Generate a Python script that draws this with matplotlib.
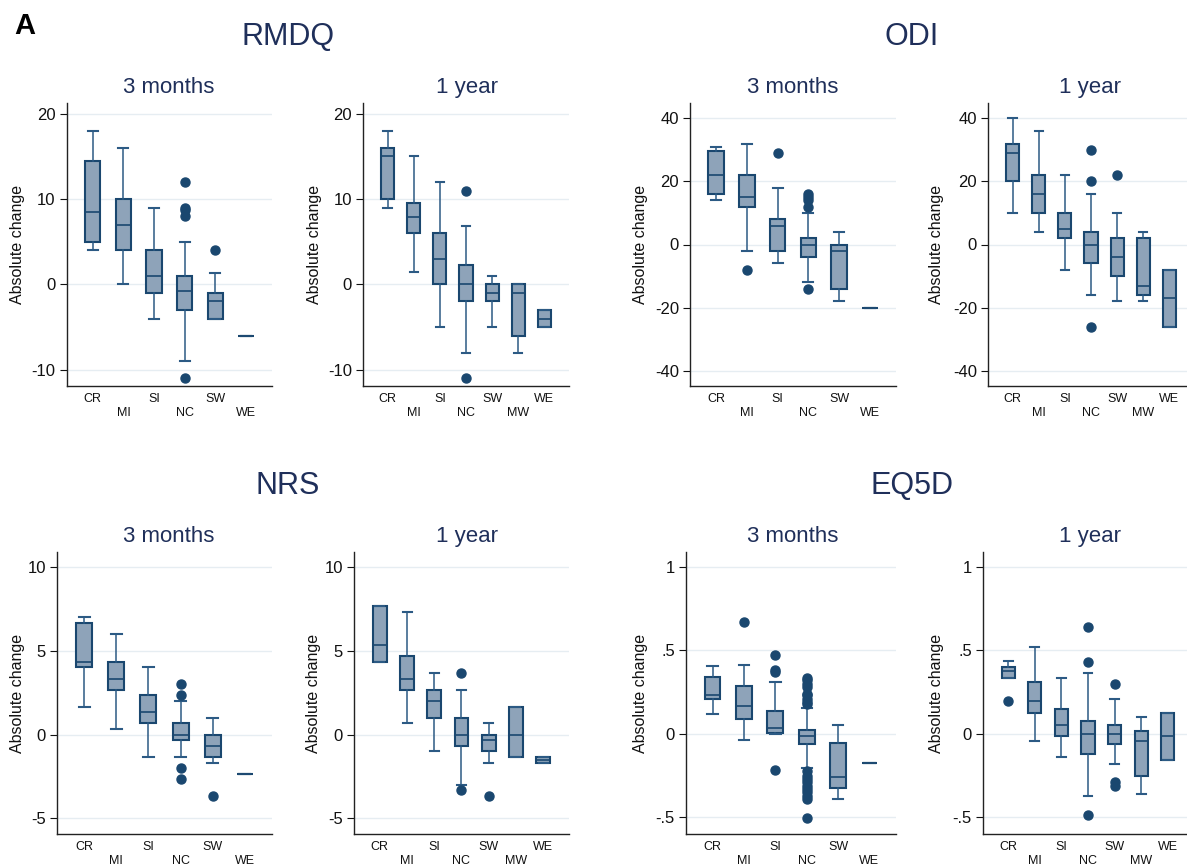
#!/usr/bin/env python3

import matplotlib
matplotlib.use('Agg')
import matplotlib.pyplot as plt

plt.rcParams['font.family'] = ['Liberation Sans', 'DejaVu Sans']

# categories
cats6 = ['CR', 'MI', 'SI', 'NC', 'SW', 'WE']
cats7 = ['CR', 'MI', 'SI', 'NC', 'SW', 'MW', 'WE']

# box stats per category: (whisker low, q1, median, q3, whisker high)
rmdq_3m = [(4, 5, 8.5, 14.4, 18), (0, 4, 7, 10, 16), (-4, -1, 1, 4, 9),
           (-9, -3, -0.8, 1, 5), (-4, -4, -2, -1, 1.35), (-6, -6, -6, -6, -6)]
rmdq_3m_out = [[], [], [], [12, 9, 8.67, 8, -11], [4], []]

rmdq_1y = [(9, 10, 15, 16, 18), (1.4, 6, 7.85, 9.5, 15), (-5, 0, 3, 6, 12),
           (-8, -2, 0, 2.3, 6.8), (-5, -2, -1, 0, 1), (-8, -6, -1, 0, 0),
           (-5, -5, -4, -3, -3)]
rmdq_1y_out = [[], [], [], [11, -11], [], [], []]

odi_3m = [(14, 16, 22, 29.7, 31), (-2, 12, 15, 22, 32), (-6, -2, 6, 8, 18),
          (-12, -4, 0, 2, 10), (-18, -14, -2, 0, 4), (-20, -20, -20, -20, -20)]
odi_3m_out = [[], [-8], [29], [16, 15, 14, 12, -14], [], []]

odi_1y = [(10, 20, 29, 32, 40), (4, 10, 16, 22, 36), (-8, 2, 5, 10, 22),
          (-16, -6, 0, 4, 16), (-18, -10, -4, 2, 10), (-18, -16, -13, 2, 4),
          (-26, -26, -17, -8, -8)]
odi_1y_out = [[], [], [], [30, 20, -26], [22], [], []]

nrs_3m = [(1.67, 4, 4.33, 6.67, 7), (0.33, 2.67, 3.33, 4.33, 6),
          (-1.33, 0.67, 1.33, 2.33, 4), (-1.33, -0.33, 0, 0.67, 2),
          (-1.67, -1.33, -0.67, 0, 1), (-2.33, -2.33, -2.33, -2.33, -2.33)]
nrs_3m_out = [[], [], [], [3, 2.33, -2, -2.67], [-3.67], []]

nrs_1y = [(4.33, 4.33, 5.33, 7.67, 7.67), (0.67, 2.67, 3.33, 4.67, 7.33),
          (-1, 1, 2, 2.67, 3.67), (-3, -0.67, 0, 1, 2.67),
          (-1.67, -1, -0.33, 0, 0.67), (-1.33, -1.33, 0, 1.67, 1.67),
          (-1.67, -1.67, -1.5, -1.33, -1.33)]
nrs_1y_out = [[], [], [], [3.67, -3.33], [-3.67], [], []]

eq5d_3m = [(0.116, 0.207, 0.231, 0.339, 0.406), (-0.04, 0.088, 0.167, 0.283, 0.41),
           (0.0, 0.004, 0.032, 0.137, 0.311), (-0.203, -0.064, -0.016, 0.02, 0.155),
           (-0.388, -0.327, -0.261, -0.056, 0.05), (-0.177, -0.177, -0.177, -0.177, -0.177)]
eq5d_3m_out = [[], [0.669], [0.47, 0.38, 0.37, -0.219],
               [0.335, 0.32, 0.30, 0.28, 0.24, 0.23, 0.21, 0.19, 0.18,
                -0.22, -0.25, -0.27, -0.29, -0.31, -0.33, -0.35, -0.37, -0.39, -0.506],
               [], []]

eq5d_1y = [(0.331, 0.331, 0.376, 0.402, 0.434), (-0.042, 0.125, 0.195, 0.311, 0.518),
           (-0.139, -0.014, 0.054, 0.151, 0.331), (-0.375, -0.122, 0.0, 0.078, 0.365),
           (-0.179, -0.064, 0.0, 0.052, 0.211), (-0.361, -0.251, -0.044, 0.018, 0.102),
           (-0.157, -0.157, -0.016, 0.125, 0.125)]
eq5d_1y_out = [[0.195], [], [], [0.637, 0.43, -0.486], [0.299, -0.289, -0.315], [], []]

FILL = '#8ea3b9'
EDGE = '#1a476f'
WHISK = '#2c5a84'
TITLE = '#1f2f5a'
GRID = '#e6edf2'

W, H = 1187, 865


def px_rect(l, r, t, b):
    return [l / W, 1 - b / H, (r - l) / W, (b - t) / H]


def draw_panel(fig, rect, cats, stats, outs, ylim, yticks, yticklabels, ylab_x):
    ax = fig.add_axes(rect)
    rows = []
    for (lo, q1, med, q3, hi), fl in zip(stats, outs):
        rows.append(dict(whislo=lo, q1=q1, med=med, q3=q3, whishi=hi, fliers=fl))
    pos = list(range(1, len(cats) + 1))
    ax.bxp(rows, positions=pos, widths=0.5, capwidths=0.33, patch_artist=True,
           boxprops=dict(facecolor=FILL, edgecolor=EDGE, linewidth=1.5),
           medianprops=dict(color=EDGE, linewidth=1.2),
           whiskerprops=dict(color=WHISK, linewidth=1.1),
           capprops=dict(color=WHISK, linewidth=1.5),
           flierprops=dict(marker='o', markerfacecolor=EDGE, markeredgecolor=EDGE,
                           markersize=6.5, linestyle='none'))
    if len(cats) == 6:
        ax.set_xlim(0.15, 6.85)
    else:
        ax.set_xlim(0.05, 7.95)
    ax.set_ylim(ylim)
    labels = [c if i % 2 == 0 else '\n' + c for i, c in enumerate(cats)]
    ax.set_xticks(pos, labels)
    ax.set_yticks(yticks, yticklabels)
    ax.tick_params(axis='x', length=0, pad=5, labelsize=9, colors='#111111')
    ax.tick_params(axis='y', length=5, width=0.8, pad=3, labelsize=12, colors='#111111')
    ax.yaxis.grid(True, color=GRID, linewidth=1)
    ax.set_axisbelow(True)
    for s in ['top', 'right']:
        ax.spines[s].set_visible(False)
    for s in ['left', 'bottom']:
        ax.spines[s].set_color('#222222')
        ax.spines[s].set_linewidth(1)
    ymid = 1 - ((rect[1] + rect[3] / 2))
    fig.text(ylab_x / W, 1 - ymid, 'Absolute change', rotation=90,
             ha='center', va='center', fontsize=11.5, color='#111111')
    return ax


def main():
    fig = plt.figure(figsize=(W / 100, H / 100), dpi=100)

    top, bot = (103, 386), (552, 834)
    lim_rmdq = (-11.9, 21.25)
    lim_odi = (-44.85, 44.85)
    lim_nrs = (-5.93, 10.88)
    lim_eq = (-0.6, 1.088)

    draw_panel(fig, px_rect(66.7, 272, *top), cats6, rmdq_3m, rmdq_3m_out, lim_rmdq,
               [-10, 0, 10, 20], ['-10', '0', '10', '20'], 17.5)
    draw_panel(fig, px_rect(363, 569, *top), cats7, rmdq_1y, rmdq_1y_out, lim_rmdq,
               [-10, 0, 10, 20], ['-10', '0', '10', '20'], 314)
    draw_panel(fig, px_rect(690, 896, *top), cats6, odi_3m, odi_3m_out, lim_odi,
               [-40, -20, 0, 20, 40], ['-40', '-20', '0', '20', '40'], 640)
    draw_panel(fig, px_rect(988, 1194, *top), cats7, odi_1y, odi_1y_out, lim_odi,
               [-40, -20, 0, 20, 40], ['-40', '-20', '0', '20', '40'], 937)

    draw_panel(fig, px_rect(57, 272, *bot), cats6, nrs_3m, nrs_3m_out, lim_nrs,
               [-5, 0, 5, 10], ['-5', '0', '5', '10'], 18)
    draw_panel(fig, px_rect(354, 569, *bot), cats7, nrs_1y, nrs_1y_out, lim_nrs,
               [-5, 0, 5, 10], ['-5', '0', '5', '10'], 313.5)
    draw_panel(fig, px_rect(686, 896, *bot), cats6, eq5d_3m, eq5d_3m_out, lim_eq,
               [-0.5, 0, 0.5, 1], ['-.5', '0', '.5', '1'], 640)
    draw_panel(fig, px_rect(983, 1193, *bot), cats7, eq5d_1y, eq5d_1y_out, lim_eq,
               [-0.5, 0, 0.5, 1], ['-.5', '0', '.5', '1'], 937)

    fig.text(14 / W, 1 - 34 / H, 'A', fontsize=21, fontweight='bold',
             ha='left', va='baseline', color='black')
    for name, x, y in [('RMDQ', 288, 45), ('ODI', 912, 45),
                       ('NRS', 288, 494), ('EQ5D', 912, 494)]:
        fig.text(x / W, 1 - y / H, name, fontsize=22, ha='center', va='baseline', color=TITLE)
    for y in [93, 542]:
        for name, x in [('3 months', 169), ('1 year', 467), ('3 months', 793), ('1 year', 1090)]:
            fig.text(x / W, 1 - y / H, name, fontsize=16, ha='center', va='baseline', color=TITLE)

    fig.savefig('out.png', dpi=100)


if __name__ == '__main__':
    main()
